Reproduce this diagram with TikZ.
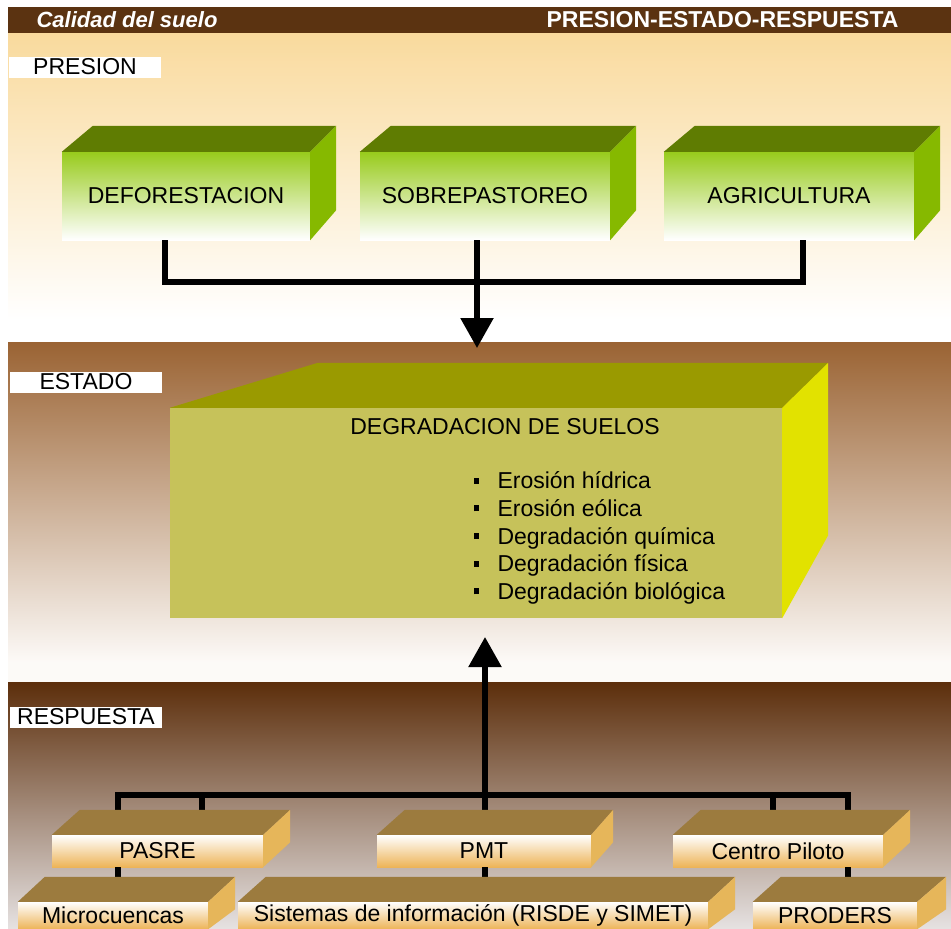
\documentclass[tikz,border=0pt]{standalone}
\usepackage{fontspec}
\setmainfont{Liberation Sans}
\usetikzlibrary{arrows.meta}

\definecolor{cabecera}{HTML}{5B3311}
\definecolor{presionA}{HTML}{F9DA9D}
\definecolor{presionB}{HTML}{FDF0DA}
\definecolor{estadoA}{HTML}{9A6333}
\definecolor{estadoB}{HTML}{CDB9AF}
\definecolor{respA}{HTML}{5C2E0B}
\definecolor{respB}{HTML}{958078}
\definecolor{respC}{HTML}{E6E2E2}
\definecolor{verdeTapa}{HTML}{5F7C02}
\definecolor{verdeFrente}{HTML}{98CB1C}
\definecolor{verdeLado}{HTML}{86B900}
\definecolor{amaTapa}{HTML}{9A9A00}
\definecolor{amaFrente}{HTML}{C6C25A}
\definecolor{amaLado}{HTML}{E2E200}
\definecolor{tanTapa}{HTML}{9C7B3E}
\definecolor{tanFrente}{HTML}{EDB458}
\definecolor{tanLado}{HTML}{E6B65A}

% cara superior y lateral de una caja: nodo, dxL, dxR, dy, dy abajo, tapa, lado
\newcommand{\caja}[7]{
	\fill[#6] (#1.north west) -- ++(#2,-#4) -- ([shift={(#3,-#4)}]#1.north east) -- (#1.north east) -- cycle;
	\fill[#7] (#1.north east) -- ++(#3,-#4) -- ([shift={(#3,-#5)}]#1.south east) -- (#1.south east) -- cycle;
}

\begin{document}
\begin{tikzpicture}[x=1pt,y=-1pt]
	\tikzset{
	txt/.style 	= {font=\fontsize{23}{27}\selectfont},
	conn/.style 	= {line width=5.5pt, black},
	flecha/.style 	= {conn, -{Triangle[length=30pt,width=32pt]}},
	etiqueta/.style = {txt, fill=white, minimum width=152pt, minimum height=21pt, inner sep=0pt},
	verde/.style 	= {txt, rectangle, inner sep=0pt, top color=verdeFrente, middle color=verdeFrente!45, bottom color=white},
	amarilla/.style = {rectangle, inner sep=0pt, fill=amaFrente},
	tan/.style 	= {txt, rectangle, inner sep=0pt, top color=white, middle color=tanFrente!45, bottom color=tanFrente}}
	
	\useasboundingbox (0,0) rectangle (951,929);
	\clip (0,0) rectangle (951,929);
	
	\fill[cabecera] (8,7) rectangle (951,33);
	\fill[top color=presionA, middle color=presionB, bottom color=white] (8,33) rectangle (951,320);
	\fill[white] (8,320) rectangle (951,342);
	\fill[top color=estadoA, middle color=estadoB, bottom color=white!96!brown] (8,342) rectangle (951,662);
	\fill[white!96!brown] (8,662) rectangle (951,682);
	\fill[top color=respA, middle color=respB, bottom color=respC] (8,682) rectangle (951,929);
	
	\node[txt, white, font=\fontsize{22}{26}\selectfont\bfseries\itshape, anchor=west] (titulo) at (33,20) {Calidad del suelo};
	\node[txt, white, font=\fontsize{23}{26}\selectfont\bfseries, anchor=east] (modelo) at (902,20) {PRESION-ESTADO-RESPUESTA};
	
	\node[etiqueta] (lpresion) at (85,67) {PRESION};
	\node[etiqueta] (lestado) at (86,382) {ESTADO};
	\node[etiqueta] (lrespuesta) at (86,717) {RESPUESTA};
	
	\node[verde, minimum width=248pt, minimum height=88pt] (defo) at (186,196) {DEFORESTACION};
	\node[verde, minimum width=250pt, minimum height=88pt] (sobre) at (485,196) {SOBREPASTOREO};
	\node[verde, minimum width=250pt, minimum height=88pt] (agri) at (789,196) {AGRICULTURA};
	
	\coordinate (bus) at (477,282);
	\coordinate (llega) at (477,348);
	\draw[conn] ([xshift=-21pt]defo.south) |- (bus) -| ([xshift=14pt]agri.south);
	\draw[flecha] ([xshift=-8pt]sobre.south) -- (llega);
	
	\node[amarilla, minimum width=612pt, minimum height=210pt] (degr) at (476,513) {};
	\node[txt] (tdegr) at (505,427) {DEGRADACION DE SUELOS};
	\node[txt, align=left, anchor=west, font=\fontsize{23}{27.7}\selectfont] (lista) at (470,538)
	{\rule[5pt]{5pt}{6pt}\hspace{19pt}Erosión hídrica\\
	\rule[5pt]{5pt}{6pt}\hspace{19pt}Erosión eólica\\
	\rule[5pt]{5pt}{6pt}\hspace{19pt}Degradación química\\
	\rule[5pt]{5pt}{6pt}\hspace{19pt}Degradación física\\
	\rule[5pt]{5pt}{6pt}\hspace{19pt}Degradación biológica};
	
	\node[tan, minimum width=211pt, minimum height=32pt] (pasre) at (157.5,851) {PASRE};
	\node[tan, minimum width=214pt, minimum height=32pt] (pmt) at (484,851) {PMT};
	\node[tan, minimum width=210pt, minimum height=32pt] (cp) at (778,851) {Centro Piloto};
	
	\node[tan, minimum width=190pt, minimum height=27pt] (micro) at (113,915.5) {Microcuencas};
	\node[tan, minimum width=470pt, minimum height=27pt] (sist) at (473,915.5) {Sistemas de información (RISDE y SIMET)};
	\node[tan, minimum width=164pt, minimum height=27pt] (prod) at (835,915.5) {PRODERS};
	
	\coordinate (bus2) at (485,795);
	\coordinate (sube) at (485,637);
	\draw[conn] ([xshift=-39.5pt]pasre.north) |- (bus2) -| ([xshift=70pt]cp.north);
	\draw[conn] ([xshift=44.5pt]pasre.north) -- ([xshift=44.5pt]pasre.north |- bus2);
	\draw[conn] ([xshift=-5pt]cp.north) -- ([xshift=-5pt]cp.north |- bus2);
	\draw[flecha] ([xshift=1pt]pmt.north) -- (sube);
	\draw[conn] ([xshift=-39.5pt]pasre.south) -- ([xshift=-39.5pt]pasre.south |- micro.north);
	\draw[conn] ([xshift=1pt]pmt.south) -- ([xshift=1pt]pmt.south |- sist.north);
	\draw[conn] ([xshift=70pt]cp.south) -- ([xshift=70pt]cp.south |- prod.north);
	
	\caja{defo}{31}{26}{26}{30}{verdeTapa}{verdeLado}
	\caja{sobre}{31}{26}{26}{30}{verdeTapa}{verdeLado}
	\caja{agri}{31}{26}{26}{30}{verdeTapa}{verdeLado}
	\caja{degr}{148}{46}{45}{83}{amaTapa}{amaLado}
	\caja{pasre}{28}{27}{25}{25}{tanTapa}{tanLado}
	\caja{pmt}{28}{22}{25}{25}{tanTapa}{tanLado}
	\caja{cp}{28}{27}{25}{25}{tanTapa}{tanLado}
	\caja{micro}{27}{27}{25}{20}{tanTapa}{tanLado}
	\caja{sist}{28}{27}{25}{20}{tanTapa}{tanLado}
	\caja{prod}{28}{29}{25}{20}{tanTapa}{tanLado}
\end{tikzpicture}
\end{document}
